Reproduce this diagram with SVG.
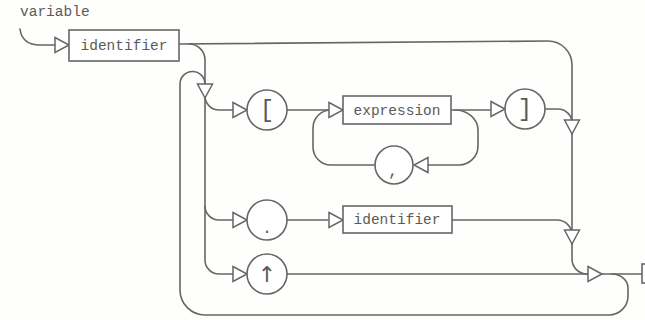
<svg xmlns="http://www.w3.org/2000/svg" xmlns:xlink="http://www.w3.org/1999/xlink" width="645" height="320" viewBox="0 0 645 320">
<style>
.ln{fill:none;stroke:#666;stroke-width:1.6;stroke-linecap:round;stroke-linejoin:round}
.bx{fill:#fff;stroke:#666;stroke-width:1.6}
.ar{fill:#fff;stroke:#666;stroke-width:1.5;stroke-linejoin:miter}
.tx{font-family:"Liberation Mono","DejaVu Sans Mono",monospace;font-size:14.5px;fill:#5a5a5a}
.sy{font-family:"Liberation Mono","DejaVu Sans Mono",monospace;font-size:24px;fill:#5a5a5a;text-anchor:middle}
</style>
<defs>
<path id="tri" d="M-14,-7.5 L0,0 L-14,7.5 Z"/>
</defs>
<rect width="645" height="320" fill="#fefefd"/>
<text class="tx" x="20" y="16">variable</text>
<g id="connectors">
<path class="ln" d="M20,29 Q22,45 40,45 H55"/>
<path class="ln" d="M179,44 L548,41 A24,24 0 0 1 572,65 V232"/>
<path class="ln" d="M189,44 A16,16 0 0 1 205,60 V260 A14,14 0 0 0 219,274 H588"/>
<path class="ln" d="M205,96 A14,14 0 0 0 219,110 H233"/>
<path class="ln" d="M205,206 A14,14 0 0 0 219,220 H233"/>
<path class="ln" d="M287,110 H328"/>
<path class="ln" d="M451,110 H490"/>
<path class="ln" d="M545,109 H558 A14,14 0 0 1 572,123"/>
<path class="ln" d="M455,110 A23,20 0 0 1 478,130 V146 A19,19 0 0 1 459,165 H428"/>
<path class="ln" d="M375,165 H331 A18,18 0 0 1 313,147 V128 A18,18 0 0 1 331,110"/>
<path class="ln" d="M287,220 H328"/>
<path class="ln" d="M452,220 H557 A15,15 0 0 1 572,235"/>
<path class="ln" d="M572,243 V259 A15,15 0 0 0 587,274"/>
<path class="ln" d="M602,274 H642"/>
<path class="ln" d="M612,274 A16,14 0 0 1 628,288 V296 A19,19 0 0 1 609,315 H205 A25,25 0 0 1 180,290 V84 A12.5,12.5 0 0 1 205,84"/>
<rect class="bx" x="642" y="264" width="12" height="19"/>
</g>
<g id="arrows">
<use href="#tri" class="ar" transform="translate(69,45)"/>
<use href="#tri" class="ar" transform="translate(205,98) rotate(90)"/>
<use href="#tri" class="ar" transform="translate(247,110)"/>
<use href="#tri" class="ar" transform="translate(343,110)"/>
<use href="#tri" class="ar" transform="translate(505,109)"/>
<use href="#tri" class="ar" transform="translate(572,134) rotate(90)"/>
<use href="#tri" class="ar" transform="translate(414,165) rotate(180)"/>
<use href="#tri" class="ar" transform="translate(247,220)"/>
<use href="#tri" class="ar" transform="translate(343,220)"/>
<use href="#tri" class="ar" transform="translate(572,244) rotate(90)"/>
<use href="#tri" class="ar" transform="translate(247,274)"/>
<use href="#tri" class="ar" transform="translate(602,274)"/>
</g>
<g id="identifier1">
<rect class="bx" x="69" y="30" width="110" height="31"/>
<text class="tx" x="124" y="50" text-anchor="middle">identifier</text>
</g>
<g id="lbracket">
<circle class="bx" cx="267" cy="110" r="20"/>
<text class="sy" x="267" y="117">[</text>
</g>
<g id="expression">
<rect class="bx" x="343" y="96" width="108" height="28"/>
<text class="tx" x="397" y="114.5" text-anchor="middle">expression</text>
</g>
<g id="rbracket">
<circle class="bx" cx="525" cy="109" r="20"/>
<text class="sy" x="525" y="116">]</text>
</g>
<g id="comma">
<circle class="bx" cx="394" cy="165" r="19"/>
<text class="sy" x="393" y="176" style="font-size:16px">,</text>
</g>
<g id="dot">
<circle class="bx" cx="267" cy="220" r="20"/>
<text class="sy" x="267" y="233" style="font-size:16px">.</text>
</g>
<g id="identifier2">
<rect class="bx" x="343" y="206" width="109" height="27"/>
<text class="tx" x="397" y="224" text-anchor="middle">identifier</text>
</g>
<g id="uparrow">
<circle class="bx" cx="267" cy="274" r="20"/>
<text class="sy" x="267" y="282" style="font-family:'DejaVu Sans',sans-serif;font-size:22px">↑</text>
</g>
</svg>
